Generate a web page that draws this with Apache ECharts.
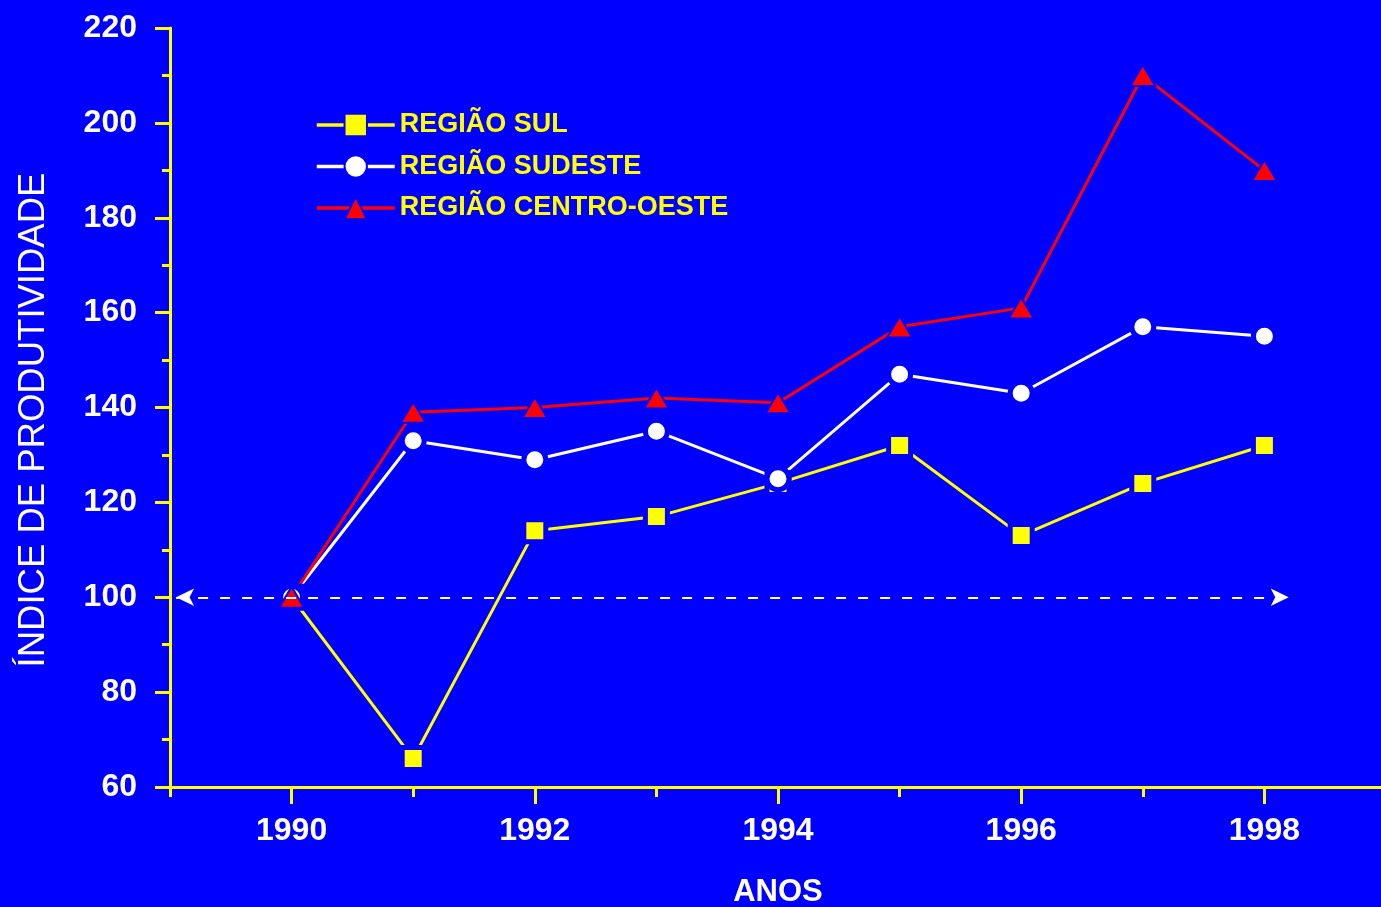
<!DOCTYPE html>
<html>
<head>
<meta charset="utf-8">
<script src="https://cdn.jsdelivr.net/npm/echarts@6/dist/echarts.min.js"></script>
<style>
  html, body { margin: 0; padding: 0; background: #0000ff; }
  #chart { width: 1381px; height: 907px; }
</style>
</head>
<body>
<div id="chart"></div>
<script>
// Productivity index by region, 1990 = 100
const years = [1990, 1991, 1992, 1993, 1994, 1995, 1996, 1997, 1998];
const regiaoSul = [100, 66, 114, 117, 124, 132, 113, 124, 132];
const regiaoSudeste = [100, 133, 129, 135, 125, 147, 143, 157, 155];
const regiaoCentroOeste = [100, 139, 140, 142, 141, 157, 161, 210, 190];
const axisYears = [1989, 1990, 1991, 1992, 1993, 1994, 1995, 1996, 1997, 1998, 1999];
const baseIndex = 100;

const BG = '#0000ff';
const YELLOW = '#ffff00';
const WHITE = '#ffffff';
const RED = '#ff0000';
const FONT = '"Liberation Sans", Arial, sans-serif';

const pairs = vals => years.map((y, i) => [y, vals[i]]);

const grid = { left: 170, width: 1216, top: 28, height: 759, outerBoundsMode: 'none', containLabel: false };

const chart = echarts.init(document.getElementById('chart'));
chart.setOption({
  backgroundColor: BG,
  animation: false,
  grid: [Object.assign({}, grid), Object.assign({}, grid)],
  legend: {
    orient: 'vertical',
    left: 310,
    top: 106,
    itemWidth: 78,
    itemHeight: 28,
    itemGap: 13.5,
    lineStyle: { width: 3.5 },
    textStyle: { color: YELLOW, fontFamily: FONT, fontWeight: 'bold', fontSize: 27, lineHeight: 28 },
    data: ['REGIÃO SUL', 'REGIÃO SUDESTE', 'REGIÃO CENTRO-OESTE']
  },
  xAxis: [{
    type: 'value',
    gridIndex: 0,
    min: axisYears[0],
    max: axisYears[axisYears.length - 1],
    interval: 1,
    splitLine: { show: false },
    axisLine: { lineStyle: { color: YELLOW, width: 3 } },
    axisTick: { length: 10, lineStyle: { color: YELLOW, width: 3 } },
    axisLabel: {
      color: WHITE, fontFamily: FONT, fontWeight: 'bold', fontSize: 32, margin: 28,
      formatter: v => (v % 2 === 0 && years.indexOf(v) >= 0) ? String(v) : ''
    },
    name: 'ANOS',
    nameLocation: 'middle',
    nameGap: 90,
    nameTextStyle: { color: WHITE, fontFamily: FONT, fontWeight: 'bold', fontSize: 31 }
  }, {
    // longer ticks on the labelled (even) years
    type: 'category',
    gridIndex: 1,
    data: axisYears,
    boundaryGap: false,
    axisLine: { show: false },
    axisLabel: { show: false },
    axisTick: {
      length: 17,
      interval: (i, v) => Number(v) % 2 === 0,
      lineStyle: { color: YELLOW, width: 3 }
    }
  }],
  yAxis: [{
    type: 'value',
    gridIndex: 0,
    min: 60,
    max: 220,
    interval: 20,
    splitLine: { show: false },
    axisLine: { show: true, lineStyle: { color: YELLOW, width: 3 } },
    axisTick: { show: true, length: 15, lineStyle: { color: YELLOW, width: 3 } },
    minorTick: { show: true, splitNumber: 2, length: 8, lineStyle: { color: YELLOW, width: 3 } },
    axisLabel: { color: WHITE, fontFamily: FONT, fontWeight: 'bold', fontSize: 32, margin: 33 }
  }, {
    type: 'value',
    gridIndex: 1,
    show: false,
    min: 60,
    max: 220
  }],
  graphic: [{
    type: 'text',
    x: 34,
    y: 420,
    rotation: Math.PI / 2,
    style: {
      text: 'ÍNDICE DE PRODUTIVIDADE',
      fill: WHITE,
      font: '36.5px "Liberation Sans", Arial, sans-serif',
      align: 'center',
      verticalAlign: 'middle'
    }
  }],
  series: [{
    name: 'REGIÃO SUL',
    type: 'line',
    data: pairs(regiaoSul),
    symbol: 'rect',
    symbolSize: 22,
    lineStyle: { color: YELLOW, width: 3 },
    itemStyle: { color: YELLOW, borderColor: BG, borderWidth: 5 },
    markLine: {
      silent: true,
      symbol: ['arrow', 'arrow'],
      symbolSize: [13, 18],
      label: { show: false },
      lineStyle: { color: WHITE, width: 2, type: [10, 12] },
      data: [[{ coord: [1989.05, baseIndex] }, { coord: [1998.2, baseIndex] }]]
    }
  }, {
    name: 'REGIÃO SUDESTE',
    type: 'line',
    data: pairs(regiaoSudeste),
    symbol: 'circle',
    symbolSize: 22,
    lineStyle: { color: WHITE, width: 3 },
    itemStyle: { color: WHITE, borderColor: BG, borderWidth: 5 }
  }, {
    name: 'REGIÃO CENTRO-OESTE',
    type: 'line',
    data: pairs(regiaoCentroOeste),
    symbol: 'triangle',
    symbolSize: [25, 21],
    lineStyle: { color: RED, width: 3 },
    itemStyle: { color: RED, borderColor: BG, borderWidth: 2 }
  }]
});
</script>
</body>
</html>
